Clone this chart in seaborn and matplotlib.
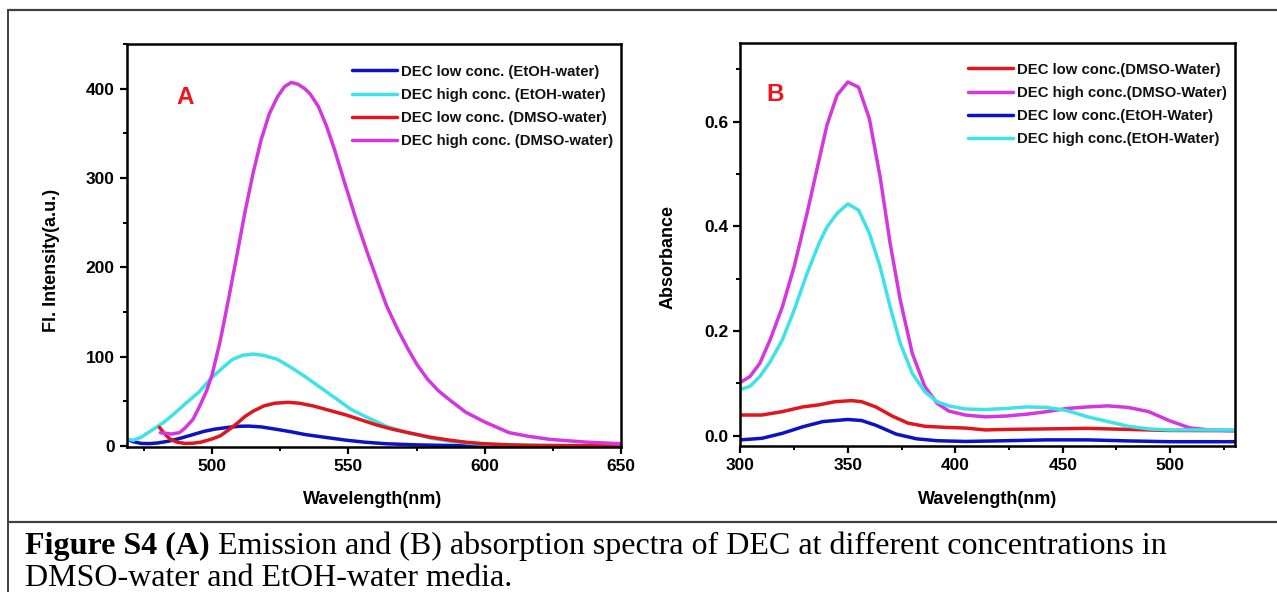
import numpy as np
import pandas as pd
import matplotlib
matplotlib.use("Agg")
import matplotlib.pyplot as plt
import seaborn as sns
from matplotlib.lines import Line2D
from matplotlib.ticker import MultipleLocator

# ---------------- Panel A : emission ----------------
a_etoh_low_x = [469, 471, 474, 477, 480, 484, 488, 492, 497, 501, 506, 510, 513.4, 518, 524, 529, 534, 541, 549, 556, 564, 575, 587, 600, 620, 650]
a_etoh_low_y = [7.5, 5, 3, 2.8, 3.5, 5.5, 8.5, 12, 16.5, 19, 21, 22.2, 22.4, 21.5, 18.6, 16, 13, 10, 6.7, 4.4, 2.6, 1.4, 0.7, 0.5, 0.3, 0.2]

a_etoh_high_x = [469, 471, 474, 478, 482, 486, 490, 495, 500, 504, 507.5, 511, 515, 519, 524, 529, 534, 540, 546, 551, 557, 564, 572, 580, 587, 595, 601.5, 620, 650]
a_etoh_high_y = [8, 6.5, 10, 18, 26, 36, 47, 60, 77, 88, 97, 101.5, 103, 101.5, 97, 88, 78, 65, 52, 41, 32, 22, 15, 9, 5.6, 3, 2, 0.8, 0.5]

a_dmso_low_x = [480.7, 482.5, 484.6, 487, 490, 493, 496, 500, 503, 506, 509, 512, 515, 519, 523, 528, 532, 537, 543, 549, 555, 560, 566, 572, 580, 587, 593, 600, 608, 616, 630, 650]
a_dmso_low_y = [21, 14, 7.8, 4.5, 3, 3.2, 4.5, 8, 11.5, 18, 25, 33, 39, 45, 48, 49, 48, 45, 40, 35, 29, 24, 19, 15, 10, 6.7, 4.4, 2.6, 1.5, 0.8, 0.5, 0.3]

a_dmso_high_x = [481, 485, 488, 490, 493, 495.5, 498, 500, 503, 506, 509, 512, 515, 518, 521, 524, 526.5, 529, 531.5, 534, 536, 539, 542, 545, 549, 553, 557, 561, 564, 568, 572, 575, 579, 583, 587, 593, 600, 609, 616, 624, 637, 650]
a_dmso_high_y = [15, 13.5, 15, 20, 30, 45, 62, 80, 118, 164, 212, 261, 305, 343, 372, 391, 402, 407, 405, 400, 394, 380, 358, 331, 291, 252, 216, 182, 157, 131, 108, 92, 75, 62, 52, 38, 27, 15, 11, 7.5, 4.5, 2.6]

a_labels = ["DEC low conc. (EtOH-water)", "DEC high conc. (EtOH-water)",
            "DEC low conc. (DMSO-water)", "DEC high conc. (DMSO-water)"]

# ---------------- Panel B : absorption ----------------
b_dmso_low_x = [300, 310, 319.5, 329, 336.6, 344, 351.7, 356.4, 363, 370.6, 378, 385.8, 395, 404.7, 414, 423.7, 442.6, 461.6, 480.5, 499.4, 530]
b_dmso_low_y = [0.0395, 0.0395, 0.046, 0.055, 0.059, 0.065, 0.067, 0.065, 0.055, 0.0376, 0.024, 0.018, 0.016, 0.0146, 0.011, 0.012, 0.013, 0.014, 0.012, 0.010, 0.0096]

b_dmso_high_x = [300, 304.4, 309, 313.8, 319.5, 325, 331, 336.6, 340.3, 345, 350, 355, 360, 365, 369.7, 374.4, 380, 385.8, 391.5, 397, 404.7, 414, 423.7, 433, 442.6, 452, 461.6, 471, 480.5, 490, 499.4, 509, 518, 530]
b_dmso_high_y = [0.102, 0.113, 0.138, 0.183, 0.246, 0.323, 0.425, 0.527, 0.594, 0.651, 0.676, 0.666, 0.606, 0.495, 0.367, 0.259, 0.157, 0.094, 0.062, 0.047, 0.0395, 0.036, 0.0376, 0.041, 0.046, 0.052, 0.055, 0.057, 0.054, 0.046, 0.029, 0.015, 0.011, 0.0096]

b_etoh_low_x = [300, 310, 319.5, 329, 338.4, 350, 356.4, 363, 372.5, 382, 391.5, 404.7, 423.7, 442.6, 461.6, 480.5, 499.4, 530]
b_etoh_low_y = [-0.008, -0.005, 0.0045, 0.017, 0.027, 0.031, 0.029, 0.020, 0.003, -0.006, -0.0096, -0.011, -0.0096, -0.008, -0.008, -0.010, -0.0115, -0.0115]

b_etoh_high_x = [300, 304.4, 309, 313.8, 319.5, 325, 331, 336.6, 340.3, 345, 350, 355, 360, 365, 369.7, 374.4, 380, 385.8, 391.5, 397, 404.7, 414, 423.7, 433, 442.6, 452, 461.6, 471, 480.5, 490, 499.4, 530]
b_etoh_high_y = [0.0886, 0.094, 0.113, 0.141, 0.183, 0.240, 0.310, 0.368, 0.399, 0.425, 0.443, 0.431, 0.387, 0.323, 0.246, 0.176, 0.119, 0.084, 0.065, 0.057, 0.051, 0.050, 0.052, 0.055, 0.054, 0.048, 0.036, 0.027, 0.018, 0.013, 0.011, 0.011]

b_labels = ["DEC low conc.(DMSO-Water)", "DEC high conc.(DMSO-Water)",
            "DEC low conc.(EtOH-Water)", "DEC high conc.(EtOH-Water)"]

caption_bold = "Figure S4 (A)"
caption_line1 = " Emission and (B) absorption spectra of DEC at different concentrations in"
caption_line2 = "DMSO-water and EtOH-water media."

C_BLUE = "#0d12c4"
C_CYAN = "#3de3e6"
C_RED = "#e0161c"
C_MAG = "#d437e0"

sns.set_style("ticks")
plt.rcParams["font.family"] = ["Liberation Sans", "DejaVu Sans"]
plt.rcParams["font.weight"] = "bold"
plt.rcParams["text.color"] = "black"
plt.rcParams["axes.labelcolor"] = "black"
plt.rcParams["xtick.color"] = "black"
plt.rcParams["ytick.color"] = "black"

W, H = 1277, 592
fig = plt.figure(figsize=(W / 100, H / 100), dpi=100)
fig.patch.set_facecolor("white")


def build(pairs, labels):
    frames = []
    for (xs, ys), lab in zip(pairs, labels):
        frames.append(pd.DataFrame({"x": xs, "y": ys, "series": lab}))
    return pd.concat(frames, ignore_index=True)


dfA = build([(a_etoh_low_x, a_etoh_low_y), (a_etoh_high_x, a_etoh_high_y),
             (a_dmso_low_x, a_dmso_low_y), (a_dmso_high_x, a_dmso_high_y)], a_labels)
dfB = build([(b_dmso_low_x, b_dmso_low_y), (b_dmso_high_x, b_dmso_high_y),
             (b_etoh_low_x, b_etoh_low_y), (b_etoh_high_x, b_etoh_high_y)], b_labels)

axA = fig.add_axes([126.5 / W, 1 - 447 / H, (621 - 126.5) / W, (447 - 44) / H])
axB = fig.add_axes([740.4 / W, 1 - 446 / H, (1234.7 - 740.4) / W, (446 - 43.3) / H])

sns.lineplot(data=dfA, x="x", y="y", hue="series", hue_order=a_labels,
             palette=[C_BLUE, C_CYAN, C_RED, C_MAG], sort=False, estimator=None,
             linewidth=2.5, ax=axA)
sns.lineplot(data=dfB, x="x", y="y", hue="series", hue_order=b_labels,
             palette=[C_RED, C_MAG, C_BLUE, C_CYAN], sort=False, estimator=None,
             linewidth=2.5, ax=axB)
for ax in (axA, axB):
    for ln in ax.get_lines():
        ln.set_solid_joinstyle("round")
        ln.set_solid_capstyle("round")


def style(ax, xlim, ylim, xmaj, xmin, ymaj, ymin, ylabel, legx, legy):
    ax.set_xlim(*xlim)
    ax.set_ylim(*ylim)
    ax.xaxis.set_major_locator(MultipleLocator(xmaj))
    ax.xaxis.set_minor_locator(MultipleLocator(xmin))
    ax.yaxis.set_major_locator(MultipleLocator(ymaj))
    ax.yaxis.set_minor_locator(MultipleLocator(ymin))
    for s in ax.spines.values():
        s.set_linewidth(1.8)
        s.set_color("black")
        s.set_visible(True)
    ax.tick_params(which="major", direction="out", length=5, width=1.6,
                   labelsize=12.5, colors="black", top=False, right=False)
    ax.tick_params(which="minor", direction="out", length=3, width=1.4,
                   top=False, right=False)
    for lab in ax.get_xticklabels() + ax.get_yticklabels():
        lab.set_fontweight("bold")
    ax.set_xlabel("Wavelength(nm)", fontsize=13, fontweight="bold", color="black")
    ax.set_ylabel(ylabel, fontsize=13, fontweight="bold", color="black")
    ax.grid(False)
    handles, labels = ax.get_legend_handles_labels()
    leg = ax.legend(handles, labels, loc="upper left", bbox_to_anchor=(legx, legy),
                    frameon=False, fontsize=10.7, handlelength=3.0,
                    handletextpad=0.3, labelspacing=0.62, borderpad=0,
                    borderaxespad=0)
    for t in leg.get_texts():
        t.set_fontweight("bold")
        t.set_color("#111111")
    for l in leg.get_lines():
        l.set_linewidth(2.5)


style(axA, (468.6, 650), (-1, 450), 50, 25, 100, 50, "Fl. Intensity(a.u.)", 0.456, 0.949)
style(axB, (300, 530), (-0.0197, 0.75), 50, 25, 0.2, 0.1, "Absorbance", 0.4604, 0.952)

axA.yaxis.set_label_coords(51 / W, 1 - 260 / H, transform=fig.transFigure)
axA.yaxis.label.set_va("center")
axB.yaxis.set_label_coords(668 / W, 1 - 257 / H, transform=fig.transFigure)
axB.yaxis.label.set_va("center")
axA.xaxis.set_label_coords(373 / W, 1 - 500 / H, transform=fig.transFigure)
axA.xaxis.label.set_va("center")
axB.xaxis.set_label_coords(988 / W, 1 - 499 / H, transform=fig.transFigure)
axB.xaxis.label.set_va("center")

axA.text(0.118, 0.868, "A", transform=axA.transAxes, color="#f0141e",
         fontsize=17.5, fontweight="bold", ha="center", va="center")
axB.text(0.07, 0.872, "B", transform=axB.transAxes, color="#f0141e",
         fontsize=17.5, fontweight="bold", ha="center", va="center")

# frame lines
lc = "#404040"
fig.add_artist(Line2D([8 / W, 1], [1 - 10 / H, 1 - 10 / H], transform=fig.transFigure, color=lc, lw=1.6))
fig.add_artist(Line2D([8 / W, 8 / W], [1 - 10 / H, 0], transform=fig.transFigure, color=lc, lw=1.4))
fig.add_artist(Line2D([8 / W, 1], [1 - 521.5 / H, 1 - 521.5 / H], transform=fig.transFigure, color=lc, lw=1.6))

# caption
serif = ["Liberation Serif", "DejaVu Serif"]
CAP = 23
t1 = fig.text(25 / W, 1 - 546 / H, caption_bold, family=serif, fontweight="bold",
              fontsize=CAP, ha="left", va="center", color="black")
fig.canvas.draw()
bb = t1.get_window_extent(renderer=fig.canvas.get_renderer())
fig.text(bb.x1 / W, 1 - 546 / H, caption_line1, family=serif, fontweight="normal",
         fontsize=CAP, ha="left", va="center", color="black")
fig.text(25 / W, 1 - 578 / H, caption_line2, family=serif, fontweight="normal",
         fontsize=CAP, ha="left", va="center", color="black")

fig.savefig("out.png", dpi=100, facecolor="white")
